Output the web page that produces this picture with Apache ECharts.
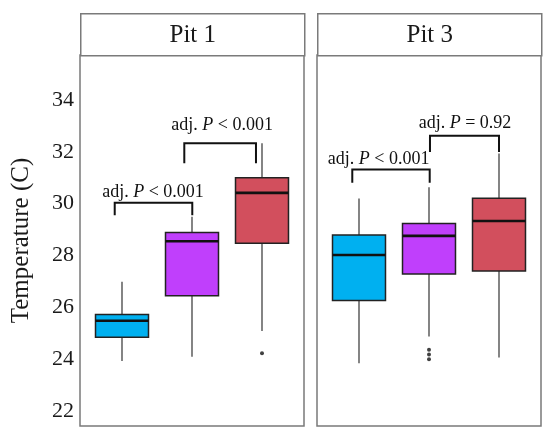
<!DOCTYPE html>
<html><head><meta charset="utf-8">
<script src="https://cdn.jsdelivr.net/npm/echarts@6/dist/echarts.min.js"></script>
<style>html,body{margin:0;padding:0;background:#fff}#c{width:550px;height:439px}</style>
</head><body><div id="c"></div>
<script>
const panels = ['Pit 1', 'Pit 3'];
const groupPositions = [1, 2, 3];
const groupColors = ['#00b0f0', '#c03ffc', '#d24f5d'];
const yTicks = [22, 24, 26, 28, 30, 32, 34];
// [min, Q1, median, Q3, max]
const pit1Boxes = [
  [23.93, 24.85, 25.48, 25.72, 26.99],
  [24.09, 26.45, 28.55, 28.89, 29.50],
  [25.09, 28.47, 30.42, 31.00, 32.33]
];
const pit3Boxes = [
  [23.84, 26.26, 28.02, 28.79, 30.20],
  [24.87, 27.29, 28.76, 29.24, 30.64],
  [24.06, 27.40, 29.33, 30.21, 31.94]
];
const pit1Outliers = [[3, 24.23]];
const pit3Outliers = [[2, 24.36], [2, 24.18], [2, 24.0]];
// bracket: [x left, x right, top, leg bottom, label x, label y]
const pit1Brackets = [
  [0.896, 2.004, 30.04, 29.55, 1.443, 30.46],
  [1.89, 2.914, 32.33, 31.56, 2.43, 33.04]
];
const pit3Brackets = [
  [0.904, 2.01, 31.32, 30.81, 1.28, 31.71],
  [2.014, 3.0, 32.62, 32.0, 2.514, 33.10]
];
const pit1BracketLabels = ['< 0.001', '< 0.001'];
const pit3BracketLabels = ['< 0.001', '= 0.92'];

const FONT = 'Liberation Serif';
const Y_MIN = 21.42, Y_MAX = 35.74;
const BOX_W = 0.757;

function boxData(boxes) {
  return boxes.map((b, i) => ({ value: [groupPositions[i]].concat(b), itemStyle: { color: groupColors[i] } }));
}
function renderBox(params, api) {
  const x = api.value(0);
  const c = i => api.coord([x, api.value(i)]);
  const pMin = c(1), pQ1 = c(2), pMed = c(3), pQ3 = c(4), pMax = c(5);
  const half = api.size([BOX_W, 0])[0] / 2;
  const cx = pMin[0];
  const color = api.visual('color');
  return { type: 'group', children: [
    { type: 'line', shape: { x1: cx, y1: pMax[1], x2: cx, y2: pQ3[1] }, style: { stroke: '#333', lineWidth: 1.2 } },
    { type: 'line', shape: { x1: cx, y1: pQ1[1], x2: cx, y2: pMin[1] }, style: { stroke: '#333', lineWidth: 1.2 } },
    { type: 'rect', shape: { x: cx - half, y: pQ3[1], width: 2 * half, height: pQ1[1] - pQ3[1] }, style: { fill: color, stroke: '#222', lineWidth: 1.5 } },
    { type: 'line', shape: { x1: cx - half, y1: pMed[1], x2: cx + half, y2: pMed[1] }, style: { stroke: '#111', lineWidth: 2.6 } }
  ]};
}
function makeBracketRenderer(labels) {
  return function (params, api) {
    const a = api.coord([api.value(0), api.value(2)]);
    const b = api.coord([api.value(1), api.value(3)]);
    const t = api.coord([api.value(4), api.value(5)]);
    return { type: 'group', children: [
      { type: 'polyline', shape: { points: [[a[0], b[1]], [a[0], a[1]], [b[0], a[1]], [b[0], b[1]]] }, style: { stroke: '#111', lineWidth: 2, fill: null } },
      { type: 'text', style: {
          x: t[0], y: t[1], align: 'center', verticalAlign: 'middle',
          text: '{n|adj. }{i|P}{n| ' + labels[params.dataIndex] + '}',
          fontFamily: FONT, fontSize: 18, fill: '#111',
          rich: {
            n: { fontFamily: FONT, fontSize: 18, fill: '#111', color: '#111' },
            i: { fontFamily: FONT, fontSize: 18, fontStyle: 'italic', fill: '#111', color: '#111' }
          }
      } }
    ]};
  };
}

const gridLefts = [80, 317];
const chart = echarts.init(document.getElementById('c'));
const option = {
  animation: false,
  backgroundColor: '#fff',
  grid: gridLefts.map(l => ({ left: l, top: 55, width: 224, height: 371, show: true, borderColor: '#7a7a7a', borderWidth: 1.5, backgroundColor: 'transparent' })),
  xAxis: [0, 1].map(i => ({ type: 'value', gridIndex: i, min: 0.4, max: 3.6, show: false })),
  yAxis: [0, 1].map(i => ({
    type: 'value', gridIndex: i, min: Y_MIN, max: Y_MAX, splitNumber: 7,
    axisLine: { show: false }, axisTick: { show: false }, splitLine: { show: false },
    axisLabel: {
      show: i === 0, fontFamily: FONT, fontSize: 22, color: '#1a1a1a', margin: 6,
      formatter: v => (yTicks.some(t => Math.abs(t - v) < 1e-6) ? String(Math.round(v)) : '')
    },
    name: i === 0 ? 'Temperature (C)' : '', nameLocation: 'middle', nameGap: 46,
    nameTextStyle: { fontFamily: FONT, fontSize: 25, color: '#1a1a1a' }
  })),
  graphic: panels.map((p, i) => ({
    type: 'group', left: gridLefts[i], top: 13, children: [
      { type: 'rect', shape: { x: 0, y: 0, width: 224, height: 42 }, style: { fill: '#fff', stroke: '#7a7a7a', lineWidth: 1.5 } },
      { type: 'text', x: 112, y: 22, style: { text: p, fontFamily: FONT, fontSize: 25, fill: '#1a1a1a', align: 'center', verticalAlign: 'middle' } }
    ]
  })),
  series: [
    { type: 'custom', xAxisIndex: 0, yAxisIndex: 0, renderItem: renderBox, encode: { x: 0, y: [1, 2, 3, 4, 5] }, data: boxData(pit1Boxes) },
    { type: 'custom', xAxisIndex: 1, yAxisIndex: 1, renderItem: renderBox, encode: { x: 0, y: [1, 2, 3, 4, 5] }, data: boxData(pit3Boxes) },
    { type: 'scatter', xAxisIndex: 0, yAxisIndex: 0, symbolSize: 4, itemStyle: { color: '#111' }, data: pit1Outliers },
    { type: 'scatter', xAxisIndex: 1, yAxisIndex: 1, symbolSize: 4, itemStyle: { color: '#111' }, data: pit3Outliers },
    { type: 'custom', xAxisIndex: 0, yAxisIndex: 0, renderItem: makeBracketRenderer(pit1BracketLabels), encode: { x: [0, 1, 4], y: [2, 3, 5] }, data: pit1Brackets, z: 5 },
    { type: 'custom', xAxisIndex: 1, yAxisIndex: 1, renderItem: makeBracketRenderer(pit3BracketLabels), encode: { x: [0, 1, 4], y: [2, 3, 5] }, data: pit3Brackets, z: 5 }
  ]
};
chart.setOption(option);
</script></body></html>
